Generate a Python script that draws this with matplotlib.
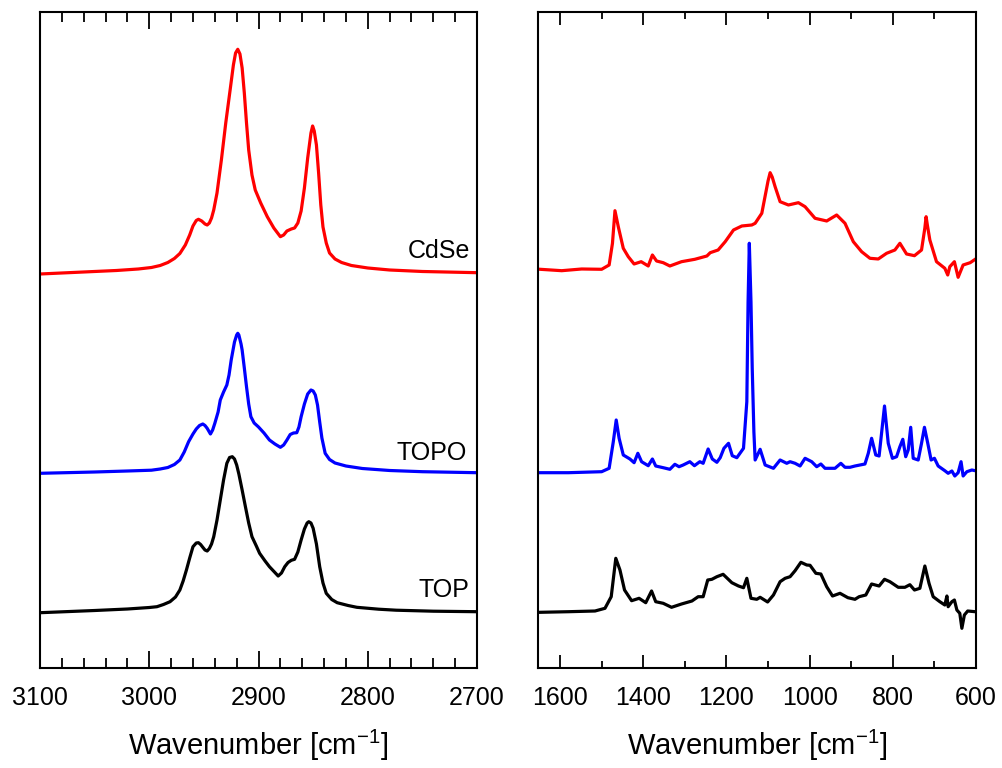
import matplotlib
matplotlib.use("Agg")
import matplotlib.pyplot as plt
import numpy as np
from matplotlib.ticker import MultipleLocator

plt.rcParams['font.family'] = ['Liberation Sans', 'DejaVu Sans']
plt.rcParams['mathtext.fontset'] = 'custom'
plt.rcParams['mathtext.rm'] = 'Liberation Sans'
plt.rcParams['axes.unicode_minus'] = False

# ---- C-H stretch region (left panel) ----
ch_wn_cdse = [3100, 3060, 3030, 3010, 2998, 2990, 2983, 2977, 2972, 2967, 2963, 2960, 2957,
              2955, 2952, 2949, 2947, 2945, 2943, 2941, 2938, 2934, 2930, 2926, 2923,
              2921, 2919, 2917, 2915, 2913, 2911, 2909, 2906, 2903, 2898, 2892, 2886,
              2880, 2877, 2874, 2870, 2867, 2864, 2861, 2858, 2855, 2852, 2850.5, 2849,
              2847, 2845, 2843, 2841, 2838, 2835, 2830, 2824, 2815, 2800, 2780, 2750, 2700]
ch_cdse = [-1, 1, 2.5, 4, 5.5, 7.5, 10.5, 14.5, 19.5, 28, 38, 47, 52.5,
           53.7, 52, 49, 48, 50, 55, 63, 80, 113, 150, 183, 208,
           220, 223.7, 219, 205, 180, 150, 123, 98, 83, 70, 56.3, 45,
           36.3, 38, 42, 44, 45, 50, 62, 85, 115, 140, 147, 142,
           128, 100, 68, 46, 30, 20, 14, 10.5, 7.5, 5, 3, 1.5, 0.3]

ch_wn_topo = [3100, 3050, 3020, 2998, 2990, 2983, 2977, 2972, 2968, 2964, 2960, 2957, 2954,
              2951, 2949, 2947, 2944, 2942, 2940, 2937, 2935, 2932, 2929, 2927, 2925,
              2922, 2920, 2919, 2918, 2916, 2915, 2913, 2911, 2909, 2907, 2904, 2900,
              2895, 2890, 2885, 2880, 2877, 2874, 2871, 2868, 2865, 2863, 2861, 2858,
              2855, 2852, 2850, 2848, 2846, 2844, 2842, 2839, 2835, 2830, 2820, 2805,
              2780, 2750, 2700]
ch_topo = [-1.3, 0, 1, 1.8, 3, 4.5, 7.5, 12, 20, 30.3, 38, 43, 46.5,
           48, 46.5, 43.7, 38, 42, 48.7, 60, 72, 80, 87, 97, 112,
           130, 137, 138.7, 137, 128, 122, 104, 85.3, 68, 55.3, 49, 45,
           39, 32, 28, 24.7, 27, 32, 37.5, 39, 39.3, 45, 55.3, 68,
           78, 82, 81, 77, 67, 50, 34, 18.7, 12.5, 9, 6, 3.5,
           1.5, 0.3, -0.7]

ch_wn_top = [3100, 3050, 3020, 3000, 2993, 2987, 2981, 2976, 2972, 2969, 2966, 2963, 2960,
             2957, 2955, 2953, 2951, 2949, 2947, 2945, 2943, 2941, 2938, 2935, 2932,
             2929, 2926.5, 2924, 2922, 2920, 2918, 2915, 2912, 2909, 2906, 2902, 2899,
             2894, 2890, 2885, 2882, 2879, 2876, 2873, 2870, 2867, 2864, 2861, 2858,
             2855.5, 2854, 2852, 2850, 2847, 2844, 2841, 2838, 2833, 2828, 2818, 2810,
             2790, 2774, 2740, 2700]
ch_top = [-0.7, 1.5, 3, 4.5, 5.3, 7.5, 10.3, 15, 22, 31, 42, 54, 65.3,
          69, 69.3, 67.5, 64.7, 62, 61, 63.5, 68, 75.3, 92, 112, 132,
          148.7, 154.5, 155.3, 153, 147, 138, 122, 105.3, 89, 75.3, 66, 58.7,
          51, 45.3, 39.5, 36, 39, 45.3, 49.5, 51.7, 52.7, 60, 72, 83,
          89, 90.3, 89, 83.7, 68, 45.3, 29, 18.7, 12.5, 9.3, 6.5, 4.7,
          2.8, 1.8, 0.8, 0.3]

# ---- fingerprint region (right panel) ----
fp_wn_cdse = [1648, 1596, 1548, 1500, 1482, 1474, 1468, 1460, 1448, 1436, 1422, 1405, 1388,
              1378, 1368, 1352, 1336, 1308, 1276, 1247, 1239, 1220, 1203, 1183, 1163,
              1139, 1131, 1115, 1100, 1095, 1090, 1083, 1071, 1051, 1027, 1011, 987, 959,
              935, 915, 895, 875, 855, 835, 815, 795, 783, 767, 748, 731, 723, 720, 717,
              711, 695, 675, 668, 663, 652, 643, 631, 614, 602]
fp_cdse = [3.7, 2.3, 4, 3.7, 8, 29.7, 62.3, 46.3, 24.7, 16.3, 9, 11.3, 7,
           18, 12, 10.3, 7, 11.3, 13.7, 17, 20.3, 23, 31.3, 43, 47,
           48, 49.7, 59.7, 92, 100.3, 96, 86.3, 71.3, 68, 70.3, 66.3, 54.7, 52,
           58, 49.7, 31.3, 21.3, 14.7, 14, 19.7, 23, 29.7, 19, 17.3, 23, 45, 56.3, 48,
           33, 11.3, 4.7, -2, 6.3, 11.3, -4.3, 8, 10.3, 13.7]

fp_wn_topo = [1648, 1580, 1500, 1482, 1472, 1465, 1458, 1448, 1432, 1422, 1413, 1404, 1388,
              1378, 1370, 1352, 1336, 1324, 1314, 1304, 1288, 1277, 1264, 1256, 1244,
              1234, 1223, 1215, 1206, 1195, 1186, 1175, 1159, 1151, 1148, 1145, 1141,
              1138, 1134, 1131, 1119, 1107, 1087, 1071, 1055, 1047, 1035, 1023, 1011,
              995, 983, 973, 963, 939, 925, 915, 903, 891, 867, 859, 851, 841, 833,
              820, 811, 801, 791, 783, 776, 769, 763, 757, 751, 739, 731, 724, 716,
              708, 700, 691, 675, 667, 658, 651, 643, 636, 631, 622, 610, 602]
fp_topo = [-0.7, -0.7, 0.3, 3.7, 30.3, 52, 33.7, 17, 13, 9.3, 18.7, 10.3, 6.3,
           13, 6, 4.3, 2.7, 7.7, 5.3, 7, 10.3, 6.3, 10.3, 8.7, 23,
           13, 9.7, 14.3, 23.7, 28.7, 16.3, 14.3, 23.7, 70.3, 170, 228.7, 170,
           103.7, 40, 12, 22.7, 7, 3.7, 12, 8.7, 10.3, 8.7, 6, 13.7,
           10.3, 5.3, 8, 3.7, 3.7, 8.7, 4.7, 4.7, 6, 8, 18.7, 33.7, 17, 16,
           66, 28.7, 13.7, 15.3, 25.3, 32.7, 15.3, 22, 44.7, 13.7, 12, 28.7, 44.7, 28.7,
           12, 13.7, 6, 1.3, -1.3, 1, -4, -0.7, 10.3, -4, 0.3, 2, 1.3]

fp_wn_top = [1648, 1580, 1516, 1492, 1477, 1466, 1456, 1445, 1428, 1410, 1394, 1380, 1370,
             1352, 1332, 1308, 1283, 1268, 1256, 1245, 1235, 1223, 1208, 1187, 1171,
             1159, 1151, 1141, 1127, 1119, 1101, 1087, 1071, 1059, 1047, 1035, 1021,
             1007, 999, 985, 973, 959, 945, 927, 908, 891, 881, 865, 851, 833, 820,
             807, 787, 771, 759, 748, 735, 723, 713, 703, 687, 675, 670, 667, 658,
             652, 646, 639, 634, 628, 620, 602]
fp_top = [-0.3, 0.3, 1, 3.7, 15.3, 53.7, 42, 22, 11.3, 13.7, 9.3, 21, 10.3,
          8.7, 4.7, 8, 11, 15.3, 15.3, 32, 32.7, 35.3, 37.7, 29.3, 26,
          24.3, 33.7, 13.7, 12.7, 14.7, 10, 17, 30.3, 33.7, 35.3, 41.3, 49.7,
          47, 46.7, 38.7, 38, 25.3, 16, 18.7, 14.3, 12.7, 15.3, 17, 28, 26, 32.7,
          30.3, 24.7, 24.7, 27.3, 22, 23.7, 46, 28.7, 15.3, 10.3, 7, 16, 5.3, 10.3,
          12, 2, -1.3, -16.3, -3, 1, 0.3]

labels = ['CdSe', 'TOPO', 'TOP']
colors = ['#ff0000', '#0000ff', '#000000']
offsets = [395, 196, 56]
label_y = [410, 208, 71]
label_x = [2706, 2709, 2707]

fig = plt.figure(figsize=(10.03, 7.68), dpi=100)
ax1 = fig.add_axes([0.0399, 0.1302, 0.4357, 0.8542])
ax2 = fig.add_axes([0.5364, 0.1302, 0.4367, 0.8542])

left_sets = [(ch_wn_cdse, ch_cdse), (ch_wn_topo, ch_topo), (ch_wn_top, ch_top)]
right_sets = [(fp_wn_cdse, fp_cdse), (fp_wn_topo, fp_topo), (fp_wn_top, fp_top)]

for (wn, y), c, off in zip(left_sets, colors, offsets):
    ax1.plot(wn, np.array(y) + off, color=c, lw=2.3, solid_joinstyle='round')
for (wn, y), c, off in zip(right_sets, colors, offsets):
    ax2.plot(wn, np.array(y) + off, color=c, lw=2.3, solid_joinstyle='round')

for name, x, y in zip(labels, label_x, label_y):
    ax1.text(x, y, name, ha='right', va='baseline', fontsize=18)

ax1.set_xlim(3100, 2700)
ax2.set_xlim(1653, 600)
for ax in (ax1, ax2):
    ax.set_ylim(0, 656)
    ax.set_yticks([])
    ax.set_xlabel(r'Wavenumber [cm$^{\mathregular{-1}}$]', fontsize=21, labelpad=13)
    for s in ax.spines.values():
        s.set_linewidth(1.5)
    ax.tick_params(axis='x', which='both', direction='in', top=True, bottom=True,
                   labelsize=18, pad=13, width=1.3)

ax1.xaxis.set_major_locator(MultipleLocator(100))
ax1.xaxis.set_minor_locator(MultipleLocator(20))
ax1.tick_params(axis='x', which='major', length=12)
ax1.tick_params(axis='x', which='minor', length=7)
ax2.xaxis.set_major_locator(MultipleLocator(200))
ax2.xaxis.set_minor_locator(MultipleLocator(100))
ax2.tick_params(axis='x', which='major', length=9.5)
ax2.tick_params(axis='x', which='minor', length=5)

fig.savefig('out.png', dpi=100)
